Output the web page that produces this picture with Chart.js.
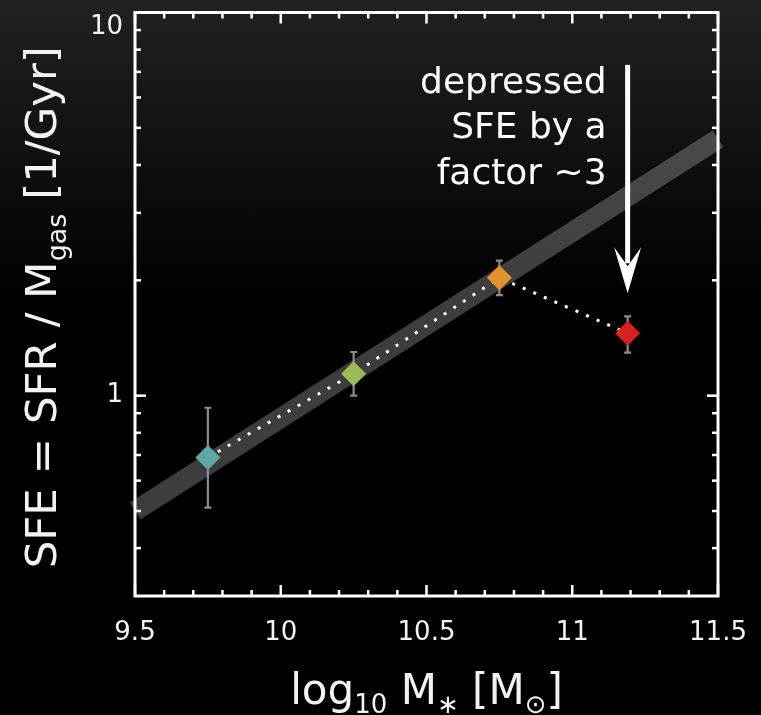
<!DOCTYPE html>
<html><head><meta charset="utf-8">
<script src="https://cdn.jsdelivr.net/npm/chart.js@4.4.1/dist/chart.umd.min.js"></script>
<style>
html,body{margin:0;padding:0;background:#000;}
body{width:761px;height:715px;overflow:hidden;background:linear-gradient(to bottom,#212121 0px,#0b0b0b 200px,#000 300px,#000 715px);}
canvas{display:block}
</style></head><body>
<canvas id="c" width="761" height="715"></canvas>
<script>
// ---- data ----
const massBins   = [9.75, 10.25, 10.75, 11.19];
const sfeValues  = [0.69, 1.14, 2.03, 1.455];
const sfeUpper   = [0.93, 1.30, 2.25, 1.61];
const sfeLower   = [0.51, 1.00, 1.83, 1.295];
const pointColors = ['#5fa8a8', '#9cbb55', '#e3922f', '#d92020'];
const trendMass  = [9.5, 11.5];
const trendSfe   = [0.50, 4.68];
const xTickLabels = [9.5, 10, 10.5, 11, 11.5];
const xMinorTicks = [9.6, 9.7, 9.8, 9.9, 10.1, 10.2, 10.3, 10.4, 10.6, 10.7, 10.8, 10.9, 11.1, 11.2, 11.3, 11.4];
const yTickLabels = [1, 10];
const yMinorTicks = [0.4, 0.5, 0.6, 0.7, 0.8, 0.9, 2, 3, 4, 5, 6, 7, 8, 9];
const arrowMass = 11.19;
const arrowSfe  = [7.3, 1.85];
const noteLines = ['depressed', 'SFE by a', 'factor ~3'];

const FONT = '"DejaVu Sans", "Liberation Sans", sans-serif';

function drawRich(ctx, segs, size) {
  let total = 0;
  const ms = segs.map(s => {
    ctx.font = (size * (s.sub ? 0.62 : 1)) + 'px ' + FONT;
    const w = ctx.measureText(s.t).width;
    total += w; return w;
  });
  let x = -total / 2;
  segs.forEach((s, i) => {
    ctx.font = (size * (s.sub ? 0.62 : 1)) + 'px ' + FONT;
    ctx.fillText(s.t, x, s.sub ? size * 0.22 : 0);
    x += ms[i];
  });
}

function noPad(s) { s.paddingLeft = 0; s.paddingRight = 0; s.paddingTop = 0; s.paddingBottom = 0; }

const deco = {
  id: 'deco',
  afterDatasetDraw(chart, args) {
    if (args.index !== 0) return;
    const ctx = chart.ctx, xs = chart.scales.x, ys = chart.scales.y;
    ctx.save();
    ctx.strokeStyle = '#8c8c8c';
    ctx.lineWidth = 2.2;
    massBins.forEach((m, i) => {
      const px = xs.getPixelForValue(m);
      const y1 = ys.getPixelForValue(sfeUpper[i]);
      const y2 = ys.getPixelForValue(sfeLower[i]);
      ctx.beginPath();
      ctx.moveTo(px, y1); ctx.lineTo(px, y2);
      ctx.moveTo(px - 3.5, y1); ctx.lineTo(px + 3.5, y1);
      ctx.moveTo(px - 3.5, y2); ctx.lineTo(px + 3.5, y2);
      ctx.stroke();
    });
    ctx.restore();
  },
  afterDatasetsDraw(chart) {
    const ctx = chart.ctx, xs = chart.scales.x, ys = chart.scales.y;
    const a = chart.chartArea;
    ctx.save();
    ctx.strokeStyle = '#ffffff';
    ctx.lineWidth = 3;
    ctx.strokeRect(a.left, a.top, a.right - a.left, a.bottom - a.top);
    ctx.lineWidth = 2.5;
    const tick = (x1, y1, x2, y2) => { ctx.beginPath(); ctx.moveTo(x1, y1); ctx.lineTo(x2, y2); ctx.stroke(); };
    const xt = (vals, len) => vals.forEach(v => {
      const p = xs.getPixelForValue(v);
      tick(p, a.bottom, p, a.bottom - len);
      tick(p, a.top, p, a.top + len);
    });
    const yt = (vals, len) => vals.forEach(v => {
      const p = ys.getPixelForValue(v);
      tick(a.left, p, a.left + len, p);
      tick(a.right, p, a.right - len, p);
    });
    xt(xTickLabels, 11); xt(xMinorTicks, 6);
    yt(yTickLabels, 11); yt(yMinorTicks, 6);
    // arrow
    const ax = xs.getPixelForValue(arrowMass);
    const ay1 = ys.getPixelForValue(arrowSfe[0]);
    const ay2 = ys.getPixelForValue(arrowSfe[1]);
    ctx.fillStyle = '#ffffff';
    ctx.fillRect(ax - 2.5, ay1, 5, (ay2 - 30) - ay1);
    ctx.beginPath();
    ctx.moveTo(ax, ay2);
    ctx.lineTo(ax - 13.5, ay2 - 46);
    ctx.lineTo(ax, ay2 - 27);
    ctx.lineTo(ax + 13.5, ay2 - 46);
    ctx.closePath();
    ctx.fill();
    // note text
    ctx.font = '36px ' + FONT;
    ctx.textAlign = 'right';
    ctx.textBaseline = 'alphabetic';
    const rx = ax - 21;
    noteLines.forEach((t, i) => {
      ctx.fillText(t, rx, a.top + 80 + i * 45.8);
    });
    ctx.restore();
  },
  afterDraw(chart) {
    const ctx = chart.ctx, a = chart.chartArea, ys = chart.scales.y;
    ctx.save();
    ctx.fillStyle = '#f2f2f2';
    ctx.textBaseline = 'alphabetic';
    ctx.font = '26px ' + FONT;
    ctx.textAlign = 'right';
    ctx.fillText('10', a.left - 12, ys.getPixelForValue(10) + 21);
    ctx.textAlign = 'left';
    ctx.save();
    ctx.translate((a.left + a.right) / 2, 704);
    drawRich(ctx, [
      {t: 'log'}, {t: '10', sub: true}, {t: ' M'}, {t: '\u2217', sub: true},
      {t: ' [M'}, {t: '\u2299', sub: true}, {t: ']'}
    ], 42);
    ctx.restore();
    ctx.save();
    ctx.translate(56, (a.top + a.bottom) / 2 + 3);
    ctx.rotate(-Math.PI / 2);
    drawRich(ctx, [
      {t: 'SFE = SFR / M'}, {t: 'gas', sub: true}, {t: ' [1/Gyr]'}
    ], 43.5);
    ctx.restore();
    ctx.restore();
  }
};

const ptData = massBins.map((m, i) => ({x: m, y: sfeValues[i]}));
const bandData = trendMass.map((m, i) => ({x: m, y: trendSfe[i]}));

new Chart(document.getElementById('c'), {
  type: 'scatter',
  data: {
    datasets: [
      { type: 'line', data: bandData, borderColor: 'rgba(255,255,255,0.24)', borderWidth: 20,
        borderCapStyle: 'butt', pointRadius: 0, clip: false, order: 4 },
      { type: 'line', data: ptData, borderColor: '#ffffff', borderWidth: 3, borderDash: [3, 8.5],
        pointRadius: 0, order: 2 },
      { type: 'scatter', data: ptData, pointStyle: 'rectRot', pointRadius: 12.5, pointHoverRadius: 12.5,
        backgroundColor: pointColors, borderWidth: 0, order: 1 }
    ]
  },
  options: {
    responsive: false,
    devicePixelRatio: 1,
    animation: false,
    events: [],
    layout: { padding: 0 },
    plugins: { legend: { display: false }, tooltip: { enabled: false } },
    scales: {
      x: {
        type: 'linear', position: 'bottom', min: 9.5, max: 11.5,
        grid: { display: false, drawTicks: false }, border: { display: false },
        afterBuildTicks: s => { s.ticks = xTickLabels.map(v => ({value: v})); },
        ticks: { color: '#f2f2f2', font: { family: FONT, size: 26 }, padding: 22, maxRotation: 0,
                 callback: v => String(v) },
        afterFit: s => { s.height = 119; noPad(s); }
      },
      xTop: {
        type: 'linear', position: 'top', min: 9.5, max: 11.5,
        grid: { display: false, drawTicks: false }, border: { display: false },
        ticks: { display: false },
        afterFit: s => { s.height = 7; noPad(s); }
      },
      y: {
        type: 'logarithmic', position: 'left', min: 0.306, max: 10,
        grid: { display: false, drawTicks: false }, border: { display: false },
        afterBuildTicks: s => { s.ticks = yTickLabels.map(v => ({value: v})); },
        ticks: { color: '#f2f2f2', font: { family: FONT, size: 26 }, padding: 12,
                 callback: v => (v === 10 ? '' : String(v)) },
        afterFit: s => { s.width = 135; noPad(s); }
      },
      yRight: {
        type: 'logarithmic', position: 'right', min: 0.306, max: 10,
        grid: { display: false, drawTicks: false }, border: { display: false },
        ticks: { display: false },
        afterFit: s => { s.width = 43; noPad(s); }
      }
    }
  },
  plugins: [deco]
});
</script>
</body></html>
